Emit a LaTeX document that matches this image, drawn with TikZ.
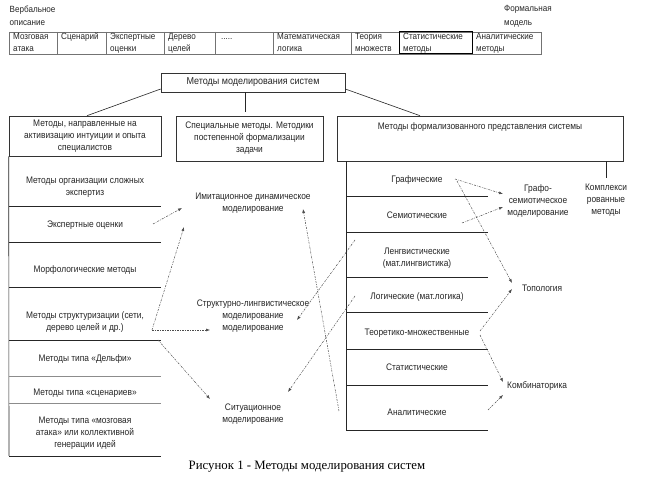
\documentclass[tikz,border=0pt]{standalone}
\usepackage{fontspec}
\setmainfont{Liberation Sans}
\newfontfamily\nf[FakeStretch=0.88]{Liberation Sans}
\newfontfamily\cf[FakeStretch=0.9]{Liberation Sans}
\newfontfamily\capfont{Liberation Serif}
\usetikzlibrary{arrows.meta}
\tikzset{
  txt/.style={font=\nf\fontsize{9.5}{12}\selectfont, align=center, inner sep=0pt, text=black!85},
  celltxt/.style={font=\cf\fontsize{9}{12}\selectfont, align=left, anchor=base west, inner sep=0pt, text=black!85},
  boxnode/.style={draw=black!80, line width=0.6pt, inner sep=0pt},
  rule/.style={draw=black!85, line width=0.6pt},
  grayrule/.style={draw=black!45, line width=0.8pt},
  tline/.style={draw=black!55, line width=0.6pt},
  arr/.style={-{Latex[length=4pt,width=3pt]}, dash pattern=on 2pt off 1.2pt on 0.6pt off 1.2pt, line width=0.5pt, draw=black!70}
}
\begin{document}
\begin{tikzpicture}[x=1pt,y=-1pt]
\useasboundingbox (0,0) rectangle (649,481);
\fill[white] (0,0) rectangle (649,481);

% top labels
\node[celltxt] (verb1) at (9.5,13) {Вербальное};
\node[celltxt] (verb2) at (9.5,26) {описание};
\node[celltxt] (form1) at (504,12) {Формальная};
\node[celltxt] (form2) at (504,26) {модель};

% top table
\draw[tline] (9,32) rectangle (541,54);
\foreach \xx in {57,106,164,215,273,351,472} \draw[tline] (\xx,32) -- (\xx,54);
\draw[draw=black, line width=1pt] (399,32) rectangle (472,54);
\node[celltxt] (c1) at (13,52) {Мозговая\\атака};
\node[celltxt] (c2) at (61,40) {Сценарий};
\node[celltxt] (c3) at (110,52) {Экспертные\\оценки};
\node[celltxt] (c4) at (168,52) {Дерево\\целей};
\node[celltxt] (c5) at (221,40) {.....};
\node[celltxt] (c6) at (277,52) {Математическая\\логика};
\node[celltxt] (c7) at (355,52) {Теория\\множеств};
\node[celltxt] (c8) at (403,52) {Статистические\\методы};
\node[celltxt] (c9) at (476,52) {Аналитические\\методы};

% main boxes
\node[boxnode, txt, font=\cf\fontsize{10}{12}\selectfont, minimum width=184pt, minimum height=19pt] (main) at (253,82.5) {Методы моделирования систем};
\node[boxnode, txt, minimum width=152pt, minimum height=40pt] (lbox) at (85,136) {Методы, направленные на\\активизацию интуиции и опыта\\специалистов};
\node[boxnode, txt, minimum width=147pt, minimum height=45pt] (mbox) at (249.5,138.5) {Специальные методы. Методики\\постепенной  формализации\\задачи};
\node[boxnode, minimum width=286pt, minimum height=45pt] (rbox) at (480,138.5) {};
\node[txt] (rboxt) at (480,127) {Методы формализованного представления системы};

\draw[rule] (main.west |- 0,89) -- (lbox.north -| 87,0);
\draw[rule] (main.south -| 245,0) -- (245,112);
\draw[rule] (main.east |- 0,89) -- (rbox.north -| 420,0);
\draw[rule] (rbox.south -| 606,0) -- (606,178);

% left column
\draw[rule] (lbox.south west) -- (9,456);
\foreach \yy in {206,242,287,340,456} \draw[rule] (9,\yy) -- (161,\yy);
\draw[grayrule] (9,376) -- (161,376);
\draw[grayrule] (9,403) -- (161,403);
\node[txt] (l1) at (85,187.5) {Методы организации сложных\\экспертиз};
\node[txt] (l2) at (85,225) {Экспертные оценки};
\node[txt] (l3) at (85,270) {Морфологические методы};
\node[txt] (l4) at (85,322) {Методы структуризации (сети,\\дерево целей и др.)};
\node[txt] (l5) at (85,359) {Методы типа «Дельфи»};
\node[txt] (l6) at (85,393) {Методы типа «сценариев»};
\node[txt] (l7) at (85,433) {Методы типа «мозговая\\атака» или коллективной\\генерации идей};

% right column
\draw[rule] (rbox.south -| 346,0) -- (346,430);
\foreach \yy in {196,232,277,312,349,385,430} \draw[rule] (346,\yy) -- (488,\yy);
\node[txt] (r1) at (417,180) {Графические};
\node[txt] (r2) at (417,215) {Семиотические};
\node[txt] (r3) at (417,258.5) {Ленгвистические\\(мат.лингвистика)};
\node[txt] (r4) at (417,297) {Логические (мат.логика)};
\node[txt] (r5) at (417,333) {Теоретико-множественные};
\node[txt] (r6) at (417,367) {Статистические};
\node[txt] (r7) at (417,412) {Аналитические};

% middle and right labels
\node[txt] (m1) at (253,203) {Имитационное динамическое\\моделирование};
\node[txt] (m2) at (253,316.5) {Структурно-лингвистическое\\моделирование\\моделирование};
\node[txt] (m3) at (253,414.5) {Ситуационное\\моделирование};
\node[txt] (gs) at (538,201) {Графо-\\семиотическое\\моделирование};
\node[txt] (kompl) at (606,200) {Комплекси\\рованные\\методы};
\node[txt, anchor=west] (topo) at (522,288) {Топология};
\node[txt, anchor=west] (komb) at (507,386) {Комбинаторика};

% arrow end points
\coordinate (a1s) at (153,224); \coordinate (a1e) at (182,208);
\coordinate (a2s) at (152,330); \coordinate (a2e) at (184,227);
\coordinate (a3e) at (210,330);
\coordinate (a4s) at (158,340); \coordinate (a4e) at (210,399);
\coordinate (a5s) at (339,411); \coordinate (a5e) at (303,209);
\coordinate (a6s) at (355,240); \coordinate (a6e) at (297,320);
\coordinate (a7s) at (355,296); \coordinate (a7e) at (288,392);
\coordinate (a8s) at (455,179); \coordinate (a8e) at (503,194);
\coordinate (a9s) at (462,223); \coordinate (a9e) at (503,207);
\coordinate (a10s) at (457,181); \coordinate (a10e) at (512,283);
\coordinate (a11s) at (480,331); \coordinate (a11e) at (512,289);
\coordinate (a12s) at (480,335); \coordinate (a12e) at (503,382);
\coordinate (a13s) at (488,410); \coordinate (a13e) at (503,395);

\draw[arr] (a1s) -- (a1e);
\draw[arr] (a2s) -- (a2e);
\draw[arr] (a2s) -- (a3e);
\draw[arr] (a4s) -- (a4e);
\draw[arr] (a5s) -- (a5e);
\draw[arr] (a6s) -- (a6e);
\draw[arr] (a7s) -- (a7e);
\draw[arr] (a8s) -- (a8e);
\draw[arr] (a9s) -- (a9e);
\draw[arr] (a10s) -- (a10e);
\draw[arr] (a11s) -- (a11e);
\draw[arr] (a12s) -- (a12e);
\draw[arr] (a13s) -- (a13e);

% caption
\node[inner sep=0pt, font=\capfont\fontsize{12.8}{14}\selectfont] (cap) at (307,467) {Рисунок 1 -  Методы моделирования систем};
\end{tikzpicture}
\end{document}
